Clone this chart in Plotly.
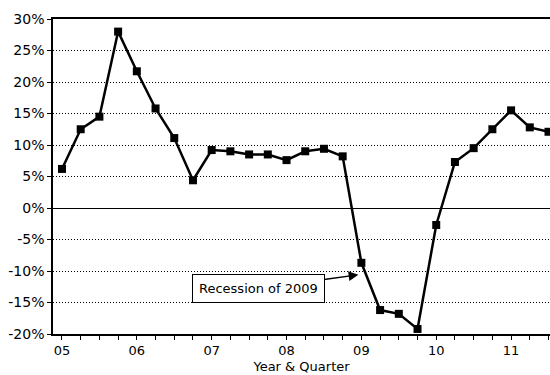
import plotly.graph_objects as go

quarters = ["2005Q1","2005Q2","2005Q3","2005Q4",
            "2006Q1","2006Q2","2006Q3","2006Q4",
            "2007Q1","2007Q2","2007Q3","2007Q4",
            "2008Q1","2008Q2","2008Q3","2008Q4",
            "2009Q1","2009Q2","2009Q3","2009Q4",
            "2010Q1","2010Q2","2010Q3","2010Q4",
            "2011Q1","2011Q2","2011Q3"]
growth = [6.2, 12.5, 14.5, 28.0, 21.7, 15.8, 11.1, 4.4,
          9.2, 9.0, 8.5, 8.5, 7.6, 9.0, 9.4, 8.2,
          -8.7, -16.2, -16.8, -19.2, -2.7, 7.3, 9.5, 12.5,
          15.5, 12.8, 12.1]
year_ticks = [2005, 2006, 2007, 2008, 2009, 2010, 2011]
year_labels = ["05", "06", "07", "08", "09", "10", "11"]
y_ticks = [-20, -15, -10, -5, 0, 5, 10, 15, 20, 25, 30]
y_labels = [f"{v}%" for v in y_ticks]

x = [int(q[:4]) + (int(q[-1]) - 1) * 0.25 for q in quarters]

FONT = "DejaVu Sans"

fig = go.Figure()
fig.add_trace(go.Scatter(
    x=x, y=growth, mode="lines+markers",
    line=dict(color="black", width=2.5),
    marker=dict(symbol="square", size=8, color="black"),
    showlegend=False, cliponaxis=False,
))

fig.update_layout(
    width=550, height=375,
    margin=dict(l=53, r=0, t=19, b=41, autoexpand=False),
    plot_bgcolor="white", paper_bgcolor="white",
    font=dict(family=FONT, color="black"),
    xaxis=dict(
        range=[2004.88, 2011.52],
        tickvals=year_ticks, ticktext=year_labels,
        ticks="outside", ticklen=4, tickwidth=1, tickcolor="black",
        minor=dict(dtick=0.25, tick0=2005, ticks="outside", ticklen=4,
                   tickcolor="black", showgrid=False),
        showgrid=False, zeroline=False, automargin=False,
        showline=True, linecolor="black", linewidth=1.5, mirror=True,
        tickfont=dict(size=13, family=FONT, color="black"),
        title=dict(text="Year & Quarter", font=dict(size=13, family=FONT, color="black"),
                   standoff=5),
    ),
    yaxis=dict(
        range=[-20, 30], automargin=False,
        tickvals=y_ticks, ticktext=y_labels,
        ticks="outside", ticklen=4, tickwidth=1, tickcolor="black",
        showgrid=True, gridcolor="black", gridwidth=1, griddash="1px,2px",
        zeroline=True, zerolinecolor="black", zerolinewidth=1,
        showline=True, linecolor="black", linewidth=1.5,
        tickfont=dict(size=14, family=FONT, color="black"),
    ),
    annotations=[dict(
        x=2008.96, y=-10.6, xref="x", yref="y",
        ax=2007.62, ay=-12.8, axref="x", ayref="y",
        text="Recession of 2009", showarrow=True,
        arrowhead=2, arrowsize=1.3, arrowwidth=1.5, arrowcolor="black",
        font=dict(size=13, family=FONT, color="black"),
        bgcolor="white", bordercolor="black", borderwidth=1, borderpad=6,
    )],
)

fig.write_html("out.html", config={"displayModeBar": False},
               post_script="document.body.style.margin='0';document.body.style.overflow='hidden';")
